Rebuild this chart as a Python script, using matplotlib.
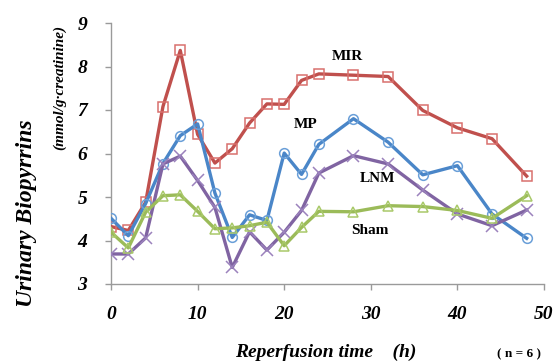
import matplotlib
matplotlib.use("Agg")
import matplotlib.pyplot as plt

hours = [0, 2, 4, 6, 8, 10, 12, 14, 16, 18, 20, 22, 24, 28, 32, 36, 40, 44, 48]
mir = [4.32, 4.23, 4.88, 7.08, 8.37, 6.44, 5.78, 6.11, 6.70, 7.14, 7.13, 7.68, 7.83, 7.80, 7.77, 6.99, 6.59, 6.34, 5.48]
mp = [4.51, 4.11, 4.85, 5.77, 6.41, 6.68, 5.09, 4.07, 4.59, 4.46, 6.01, 5.52, 6.21, 6.80, 6.26, 5.51, 5.72, 4.61, 4.05]
lnm = [3.69, 3.69, 4.06, 5.76, 5.94, 5.38, 4.76, 3.38, 4.20, 3.78, 4.19, 4.69, 5.55, 5.95, 5.76, 5.16, 4.61, 4.34, 4.70]
sham = [4.19, 3.83, 4.65, 5.03, 5.05, 4.67, 4.27, 4.29, 4.34, 4.42, 3.88, 4.30, 4.67, 4.66, 4.80, 4.78, 4.69, 4.51, 5.03]
xticks = [0, 10, 20, 30, 40, 50]
yticks = [3, 4, 5, 6, 7, 8, 9]

fig = plt.figure(figsize=(5.58, 3.63), dpi=100)
ax = fig.add_axes([111/558, 1-284/363, (544-111)/558, (284-23)/363])

serif = "Liberation Serif"
lw = 2.4
ax.plot(hours, mir, color="#C0504D", lw=lw, marker="s", ms=7, mfc="none", mec="#D9706D", mew=1.1, zorder=3)
ax.plot(hours, mp, color="#4A86C8", lw=lw, marker="o", ms=7, mfc="none", mec="#6A9FD8", mew=1.1, zorder=3)
ax.plot(hours, lnm, color="#8064A2", lw=lw, marker="x", ms=8, mec="#9B82BD", mew=1.1, zorder=3)
ax.plot(hours, sham, color="#9BBB59", lw=lw, marker="^", ms=7, mfc="none", mec="#A9C96A", mew=1.1, zorder=3)

ax.set_xlim(0, 50)
ax.set_ylim(3, 9)
ax.set_xticks(xticks)
ax.set_yticks(yticks)
for s in ["top", "right"]:
    ax.spines[s].set_visible(False)
for s in ["left", "bottom"]:
    ax.spines[s].set_color("#9a9a9a")
    ax.spines[s].set_linewidth(1.0)
ax.tick_params(direction="out", length=4, color="#9a9a9a", width=1.0)
for lab in ax.get_xticklabels() + ax.get_yticklabels():
    lab.set_fontfamily(serif)
    lab.set_fontweight("bold")
    lab.set_fontstyle("italic")
    lab.set_fontsize(14)
ax.tick_params(axis="y", pad=13)
ax.tick_params(axis="x", pad=12)

# Axis labels
fig.text(27/558, 1-213/363, "Urinary Biopyrrins", rotation=90, ha="center", va="center",
         family=serif, weight="bold", style="italic", fontsize=17)
fig.text(60/558, 1-87/363, "(mmol/g\u00b7creatinine)", rotation=90, ha="center", va="center",
         family=serif, weight="bold", style="italic", fontsize=11)
fig.text(326/558, 1-352/363, "Reperfusion time    (h)", ha="center", va="center",
         family=serif, weight="bold", style="italic", fontsize=14)
fig.text(519/558, 1-354/363, "( n = 6 )", ha="center", va="center",
         family=serif, weight="bold", fontsize=9.5)

# Series annotations
for txt, x, y in [("MIR", 347, 57), ("MP", 306, 125), ("LNM", 378, 178), ("Sham", 370, 231)]:
    fig.text(x/558, 1-y/363, txt, ha="center", va="center",
             family=serif, weight="bold", fontsize=11)

fig.savefig("out.png", dpi=100)
